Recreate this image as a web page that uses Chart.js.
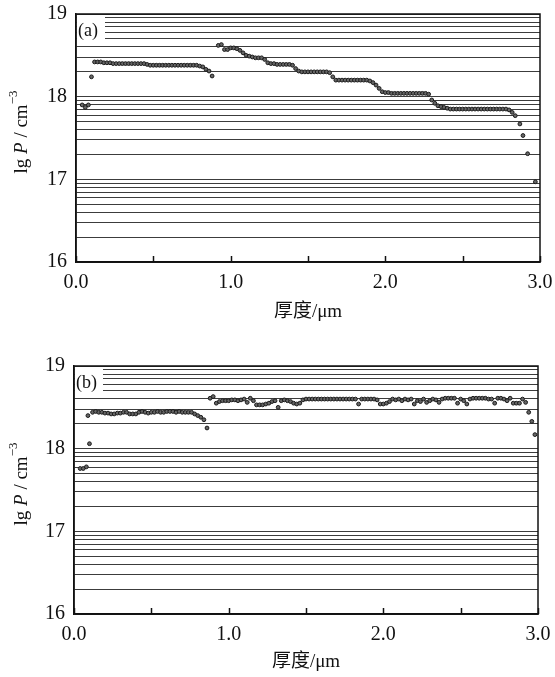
<!DOCTYPE html>
<html>
<head>
<meta charset="utf-8">
<script src="https://cdn.jsdelivr.net/npm/chart.js@4.4.1/dist/chart.umd.min.js"></script>
<style>
  body { margin: 0; background: #fff; }
  .panel { position: absolute; left: 0; width: 555px; }
  #pa { top: 0; height: 330px; }
  #pb { top: 330px; height: 347px; }
</style>
</head>
<body>
<div class="panel" id="pa"><canvas id="chartA"></canvas></div>
<div class="panel" id="pb"><canvas id="chartB"></canvas></div>
<script>
// depth in um, lg P in cm^-3
const depthA = [
  0.04,0.06,0.08,0.10,0.12,0.14,0.16,0.18,0.20,0.22,
  0.24,0.26,0.28,0.30,0.32,0.34,0.36,0.38,0.40,0.42,
  0.44,0.46,0.48,0.50,0.52,0.54,0.56,0.58,0.60,0.62,
  0.64,0.66,0.68,0.70,0.72,0.74,0.76,0.78,0.80,0.82,
  0.84,0.86,0.88,0.92,0.94,0.96,0.98,1.00,1.02,1.04,
  1.06,1.08,1.10,1.12,1.14,1.16,1.18,1.20,1.22,1.24,
  1.26,1.28,1.30,1.32,1.34,1.36,1.38,1.40,1.42,1.44,
  1.46,1.48,1.50,1.52,1.54,1.56,1.58,1.60,1.62,1.64,
  1.66,1.68,1.70,1.72,1.74,1.76,1.78,1.80,1.82,1.84,
  1.86,1.88,1.90,1.92,1.94,1.96,1.98,2.00,2.02,2.04,
  2.06,2.08,2.10,2.12,2.14,2.16,2.18,2.20,2.22,2.24,
  2.26,2.28,2.30,2.32,2.34,2.36,2.38,2.40,2.42,2.44,
  2.46,2.48,2.50,2.52,2.54,2.56,2.58,2.60,2.62,2.64,
  2.66,2.68,2.70,2.72,2.74,2.76,2.78,2.80,2.82,2.84,
  2.87,2.89,2.92,2.97
];
const lgPA = [
  17.90,17.87,17.90,18.24,18.42,18.42,18.42,18.41,18.41,18.41,
  18.40,18.40,18.40,18.40,18.40,18.40,18.40,18.40,18.40,18.40,
  18.40,18.39,18.38,18.38,18.38,18.38,18.38,18.38,18.38,18.38,
  18.38,18.38,18.38,18.38,18.38,18.38,18.38,18.38,18.37,18.36,
  18.33,18.31,18.25,18.62,18.63,18.57,18.57,18.59,18.59,18.58,
  18.56,18.53,18.50,18.49,18.48,18.47,18.47,18.47,18.45,18.41,
  18.40,18.40,18.39,18.39,18.39,18.39,18.39,18.38,18.34,18.31,
  18.30,18.30,18.30,18.30,18.30,18.30,18.30,18.30,18.30,18.29,
  18.24,18.20,18.20,18.20,18.20,18.20,18.20,18.20,18.20,18.20,
  18.20,18.20,18.19,18.17,18.14,18.10,18.06,18.05,18.05,18.04,
  18.04,18.04,18.04,18.04,18.04,18.04,18.04,18.04,18.04,18.04,
  18.04,18.03,17.96,17.92,17.89,17.88,17.87,17.86,17.85,17.85,
  17.85,17.85,17.85,17.85,17.85,17.85,17.85,17.85,17.85,17.85,
  17.85,17.85,17.85,17.85,17.85,17.85,17.85,17.84,17.81,17.77,
  17.67,17.53,17.31,16.97
];

const depthB = [
  0.04,0.06,0.08,0.09,0.10,0.12,0.14,0.16,0.18,0.20,
  0.22,0.24,0.26,0.28,0.30,0.32,0.34,0.36,0.38,0.40,
  0.42,0.44,0.46,0.48,0.50,0.52,0.54,0.56,0.58,0.60,
  0.62,0.64,0.66,0.68,0.70,0.72,0.74,0.76,0.78,0.80,
  0.82,0.84,0.86,0.88,0.90,0.92,0.94,0.96,0.98,1.00,
  1.02,1.04,1.06,1.08,1.10,1.12,1.14,1.16,1.18,1.20,
  1.22,1.24,1.26,1.28,1.30,1.32,1.34,1.36,1.38,1.40,
  1.42,1.44,1.46,1.48,1.50,1.52,1.54,1.56,1.58,1.60,
  1.62,1.64,1.66,1.68,1.70,1.72,1.74,1.76,1.78,1.80,
  1.82,1.84,1.86,1.88,1.90,1.92,1.94,1.96,1.98,2.00,
  2.02,2.04,2.06,2.08,2.10,2.12,2.14,2.16,2.18,2.20,
  2.22,2.24,2.26,2.28,2.30,2.32,2.34,2.36,2.38,2.40,
  2.42,2.44,2.46,2.48,2.50,2.52,2.54,2.56,2.58,2.60,
  2.62,2.64,2.66,2.68,2.70,2.72,2.74,2.76,2.78,2.80,
  2.82,2.84,2.86,2.88,2.90,2.92,2.94,2.96,2.98
];
const lgPB = [
  17.76,17.76,17.78,18.40,18.06,18.44,18.45,18.44,18.44,18.43,
  18.43,18.42,18.42,18.43,18.43,18.44,18.44,18.42,18.42,18.42,
  18.44,18.45,18.44,18.43,18.44,18.44,18.45,18.44,18.44,18.45,
  18.45,18.45,18.44,18.45,18.44,18.44,18.44,18.44,18.42,18.40,
  18.38,18.35,18.25,18.61,18.63,18.55,18.57,18.58,18.58,18.58,
  18.59,18.59,18.58,18.59,18.60,18.56,18.61,18.58,18.53,18.53,
  18.53,18.54,18.55,18.57,18.58,18.50,18.58,18.59,18.58,18.57,
  18.55,18.54,18.55,18.59,18.60,18.60,18.60,18.60,18.60,18.60,
  18.60,18.60,18.60,18.60,18.60,18.60,18.60,18.60,18.60,18.60,
  18.60,18.54,18.60,18.60,18.60,18.60,18.60,18.59,18.54,18.54,
  18.55,18.57,18.60,18.59,18.60,18.58,18.60,18.59,18.60,18.54,
  18.58,18.57,18.60,18.56,18.58,18.60,18.59,18.56,18.60,18.61,
  18.61,18.61,18.61,18.55,18.60,18.58,18.54,18.60,18.61,18.61,
  18.61,18.61,18.61,18.60,18.60,18.55,18.61,18.61,18.60,18.58,
  18.61,18.55,18.55,18.55,18.60,18.56,18.44,18.33,18.17
];

const yDecades = [16, 17, 18, 19];     // labelled ticks
const xLabels = [0, 1, 2, 3];          // labelled ticks, marks every 0.5

const serif = '"Liberation Serif", "DejaVu Serif", serif';
const cjk = '"Liberation Serif", "Noto Sans CJK SC", serif';

// log-style grid: 1..9 x 10^n expressed in lg
const gridValues = [];
for (let i = 0; i < yDecades.length - 1; i++) {
  for (let k = 1; k <= 9; k++) gridValues.push(yDecades[i] + Math.log10(k));
}
gridValues.push(yDecades[yDecades.length - 1]);

const framePlugin = {
  id: 'frame',
  afterDraw(chart) {
    const ctx = chart.ctx;
    const a = chart.chartArea;
    const xs = chart.scales.x, ys = chart.scales.y;
    const tag = chart.options.plugins.frame.tag;
    ctx.save();
    // white patch behind the panel tag (grid lines start after it)
    ctx.fillStyle = '#fff';
    ctx.fillRect(a.left + 1, a.top + 1, 28, ys.getPixelForValue(18.64) - a.top - 1);
    ctx.fillStyle = '#111';
    ctx.font = '18px ' + serif;
    ctx.textBaseline = 'middle';
    ctx.textAlign = 'left';
    ctx.fillText(tag, a.left + 2, a.top + 17);
    // inward tick marks on the bottom axis
    ctx.strokeStyle = '#111';
    ctx.lineWidth = 1.5;
    xs.ticks.forEach(t => {
      const px = Math.round(xs.getPixelForValue(t.value)) + 0.5;
      ctx.beginPath();
      ctx.moveTo(px, a.bottom);
      ctx.lineTo(px, a.bottom - 6);
      ctx.stroke();
    });
    // box
    ctx.lineWidth = 1.5;
    ctx.strokeRect(a.left, a.top, a.right - a.left, a.bottom - a.top);
    // axis titles
    ctx.fillStyle = '#111';
    ctx.textAlign = 'center';
    ctx.font = '19px ' + cjk;
    ctx.fillText('厚度/μm', (a.left + a.right) / 2, chart.options.plugins.frame.xTitleY);
    ctx.translate(22, (a.top + a.bottom) / 2 - 6);
    ctx.rotate(-Math.PI / 2);
    const parts = [
      ['lg ', '19px ' + serif, 0],
      ['P', 'italic 19px ' + serif, 0],
      [' / cm', '19px ' + serif, 0],
      ['−3', '13px ' + serif, -8]
    ];
    let total = 0;
    parts.forEach(p => { ctx.font = p[1]; total += ctx.measureText(p[0]).width; });
    let cx = -total / 2;
    ctx.textAlign = 'left';
    parts.forEach(p => {
      ctx.font = p[1];
      ctx.fillText(p[0], cx, p[2]);
      cx += ctx.measureText(p[0]).width;
    });
    ctx.restore();
  }
};

function makePanel(id, depth, lgP, tag, pad, yWidth, xHeight, xTitleY) {
  const points = depth.map((d, i) => ({ x: d, y: lgP[i] }));
  return new Chart(document.getElementById(id), {
    type: 'scatter',
    data: {
      datasets: [{
        data: points,
        pointRadius: 1.9,
        pointBorderWidth: 1,
        pointBackgroundColor: '#666',
        pointBorderColor: '#1a1a1a'
      }]
    },
    options: {
      responsive: true,
      maintainAspectRatio: false,
      animation: false,
      layout: { padding: pad },
      plugins: {
        legend: { display: false },
        tooltip: { enabled: false },
        frame: { tag: tag, xTitleY: xTitleY }
      },
      scales: {
        x: {
          type: 'linear',
          min: 0, max: 3,
          afterFit: s => { s.height = xHeight; s.paddingLeft = 0; s.paddingRight = 0; },
          grid: { display: false, drawTicks: false },
          border: { display: true, color: '#111', width: 1.5 },
          ticks: {
            stepSize: 0.5,
            padding: 9,
            color: '#111',
            font: { family: serif, size: 20 },
            callback: v => xLabels.includes(v) ? v.toFixed(1) : ''
          }
        },
        y: {
          type: 'linear',
          min: 16, max: 19,
          afterFit: s => { s.width = yWidth; s.paddingTop = 0; s.paddingBottom = 0; },
          afterBuildTicks: s => { s.ticks = gridValues.map(v => ({ value: v })); },
          grid: { color: '#3c3c3c', lineWidth: 1, drawTicks: false },
          border: { display: true, color: '#111', width: 1.5 },
          ticks: {
            padding: 9,
            color: '#111',
            font: { family: serif, size: 20 },
            autoSkip: false,
            callback: v => yDecades.includes(v) ? String(v) : ''
          }
        }
      }
    },
    plugins: [framePlugin]
  });
}

makePanel('chartA', depthA, lgPA, '(a)', { top: 14, right: 15, left: 0, bottom: 0 }, 76, 68, 312);
makePanel('chartB', depthB, lgPB, '(b)', { top: 36, right: 17, left: 0, bottom: 0 }, 74, 63, 332);
</script>
</body>
</html>
